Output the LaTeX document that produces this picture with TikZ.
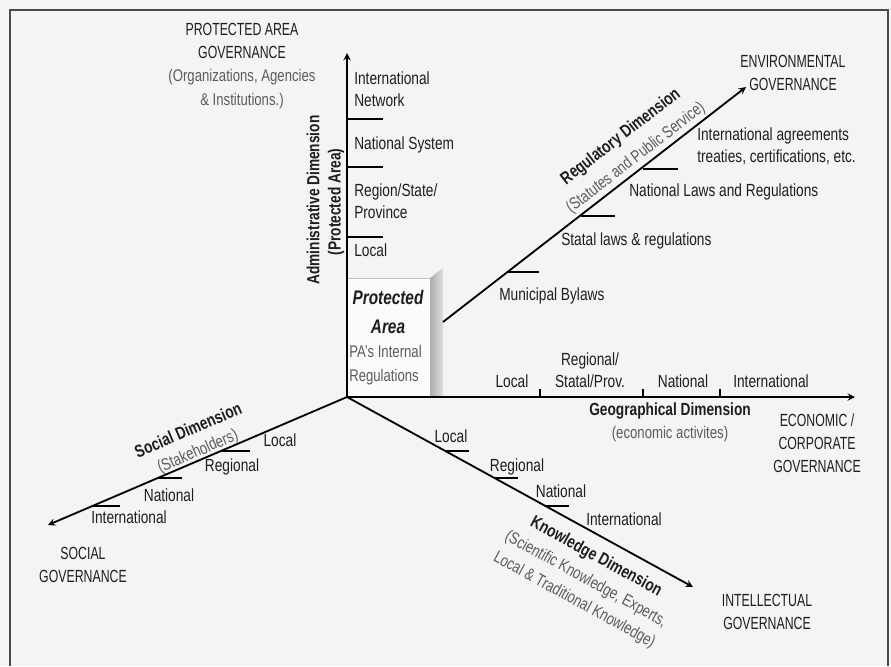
\documentclass[tikz,border=0pt]{standalone}
\usepackage{fontspec}
\setmainfont{Liberation Sans}[FakeStretch=0.78]
\newfontfamily\capsfont{Liberation Sans}[FakeStretch=0.7]
\usetikzlibrary{positioning, arrows.meta}

\definecolor{paper}{HTML}{F4F4F4}
\definecolor{framegray}{HTML}{4A4A4A}
\definecolor{ink}{HTML}{1E1E1E}
\definecolor{soft}{HTML}{5C5C5C}

\begin{document}
\begin{tikzpicture}[x=0.025cm, y=-0.025cm,
  axis/.style={line width=1.3pt, ->, >=stealth},
  tickmark/.style={line width=1.2pt},
  lvl/.style={inner sep=0pt, text=ink, align=left, font=\fontsize{12.5}{15.5}\selectfont},
  dimtitle/.style={inner sep=0pt, text=ink, font=\bfseries\fontsize{12.5}{15}\selectfont},
  sub/.style={inner sep=0pt, text=soft, align=center, font=\fontsize{12}{17}\selectfont},
  gov/.style={inner sep=0pt, text=ink, align=center, font=\capsfont\fontsize{12.5}{16.5}\selectfont}]

% Page and frame
\fill[paper] (0,0) rectangle (891,666);
\useasboundingbox (0,0) rectangle (891,666);
\draw[framegray, line width=1.6pt] (10,666) -- (10,10) -- (888,10) -- (888,666);

% Protected area box
\draw[gray!50, fill=white!97!gray] (347,278) rectangle (430,397);
\shade[left color=gray!65, right color=gray!25] (430,278) -- (443,268) -- (443,397) -- (430,397) -- cycle;
\node[inner sep=0pt, text=ink, align=center, font=\bfseries\itshape\fontsize{14}{20.5}\selectfont] (pa) at (388,312) {Protected\\Area};
\node[inner sep=0pt, text=soft, align=left, anchor=west, font=\fontsize{12}{17.5}\selectfont] (paregs) at (349,365) {PA's Internal\\Regulations};

% Axes
\coordinate (origin) at (347,397);
\coordinate (adminend) at (347,53);
\coordinate (regstart) at (443,322);
\coordinate (regend) at (746,87);
\coordinate (geoend) at (855,397);
\coordinate (knowend) at (693,587);
\coordinate (socend) at (48,525);

\draw[axis] (origin) -- (adminend);
\draw[axis] (regstart) -- (regend);
\draw[axis] (origin) -- (geoend);
\draw[axis] (origin) -- (knowend);
\draw[axis] (origin) -- (socend);

% Administrative dimension (vertical)
\draw[tickmark] (347,119) -- (383,119);
\draw[tickmark] (347,167) -- (383,167);
\draw[tickmark] (347,237) -- (383,237);
\node[lvl, anchor=west] (adint) at (354,89) {International\\Network};
\node[lvl, anchor=west] (adnat) at (354,145) {National System};
\node[lvl, anchor=west] (adreg) at (354,201) {Region/State/\\Province};
\node[lvl, anchor=west] (adloc) at (354,250) {Local};
\node[dimtitle, rotate=90] (admintitle) at (313,200) {Administrative Dimension};
\node[dimtitle, rotate=90] (adminsub) at (336,202) {(Protected Area)};
\node[gov] (pagov) at (242,41) {PROTECTED AREA\\GOVERNANCE};
\node[sub] (pagovsub) at (242,89) {(Organizations, Agencies\\\& Institutions.)};

% Regulatory dimension
\draw[tickmark] (508,272) -- (539,272);
\draw[tickmark] (581,216) -- (615,216);
\draw[tickmark] (643,169) -- (678,169);
\node[lvl, anchor=west] (regmun) at (499,296) {Municipal Bylaws};
\node[lvl, anchor=west] (regsta) at (561,241) {Statal laws \& regulations};
\node[lvl, anchor=west] (regnat) at (629,192) {National Laws and Regulations};
\node[lvl, anchor=west] (regint) at (697,146) {International agreements\\treaties, certifications, etc.};
\node[dimtitle, rotate=37.65] (regtitle) at (621,137) {Regulatory Dimension};
\node[sub, rotate=37.65] (regsub) at (636,158) {(Statutes and Public Service)};
\node[gov] (envgov) at (793,73) {ENVIRONMENTAL\\GOVERNANCE};

% Geographical dimension (horizontal)
\draw[tickmark] (540,397) -- (540,389);
\draw[tickmark] (643,397) -- (643,389);
\draw[tickmark] (720,397) -- (720,389);
\node[lvl] (geoloc) at (512,381) {Local};
\node[lvl, align=center] (georeg) at (590,370) {Regional/\\Statal/Prov.};
\node[lvl] (geonat) at (683,381) {National};
\node[lvl] (geoint) at (771,381) {International};
\node[dimtitle] (geotitle) at (670,411) {Geographical Dimension};
\node[sub] (geosub) at (670,434) {(economic activites)};
\node[gov] (ecogov) at (817,443) {ECONOMIC /\\CORPORATE\\GOVERNANCE};

% Knowledge dimension
\draw[tickmark] (445,451) -- (469,451);
\draw[tickmark] (494,478) -- (518,478);
\draw[tickmark] (545,506) -- (569,506);
\node[lvl] (knoloc) at (451,436) {Local};
\node[lvl] (knoreg) at (517,467) {Regional};
\node[lvl] (knonat) at (561,491) {National};
\node[lvl] (knoint) at (624,519) {International};
\node[dimtitle, rotate=-28.77] (knotitle) at (596,557) {Knowledge Dimension};
\node[sub, rotate=-28.77] (knosub) at (580,590) {(Scientific Knowledge, Experts,\\Local \& Traditional Knowledge)};
\node[gov] (intgov) at (767,612) {INTELLECTUAL\\GOVERNANCE};

% Social dimension
\draw[tickmark] (221,451) -- (250,451);
\draw[tickmark] (158,478) -- (182,478);
\draw[tickmark] (93,506) -- (120,506);
\node[lvl] (socloc) at (280,440) {Local};
\node[lvl] (socreg) at (232,467) {Regional};
\node[lvl] (socnat) at (169,495) {National};
\node[lvl] (socint) at (129,517) {International};
\node[dimtitle, rotate=23.17] (soctitle) at (188,430) {Social Dimension};
\node[sub, rotate=23.17] (socsub) at (198,452) {(Stakeholders)};
\node[gov] (socgov) at (83,565) {SOCIAL\\GOVERNANCE};

\end{tikzpicture}
\end{document}
